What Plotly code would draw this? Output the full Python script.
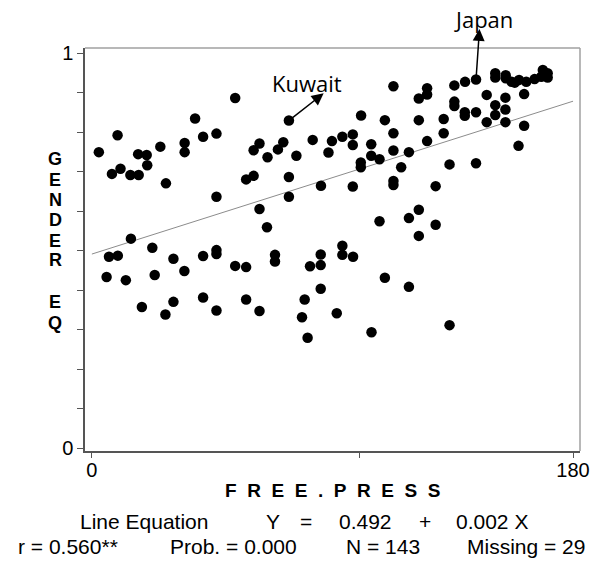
import plotly.graph_objects as go

# ---- data ----
free_press = [
    53.6, 38.6, 9.6, 41.6, 46.6, 34.7, 25.6, 2.6, 17.3, 20.5, 34.7, 20.7, 10.7, 7.5, 14.4, 17.5, 27.7, 46.6, 57.7,
    73.7, 112.8, 122.3, 100.7, 109.6, 122.3, 112.8, 97.6, 93.7, 89.8, 82.6, 62.7, 71.6, 69.6, 60.5, 65.7, 76.5,
    88.5, 97.6, 104.5, 112.8, 118.6, 104.5, 107.6, 100.6, 100.6, 115.7, 60.5, 73.7, 85.7, 97.6, 112.8, 112.8, 73.7,
    143.7, 139.6, 135.6, 125.4, 125.4, 150.9, 150.9, 154.8, 154.8, 158.2, 159.8, 162.5, 165.6, 168.7, 170.5, 170.5,
    168.1, 157.0, 161.7, 147.7, 154.7, 135.6, 135.6, 150.9, 154.7, 139.5, 139.5, 143.7, 150.9, 147.7, 154.7, 161.7,
    131.6, 131.6, 125.4, 159.6, 133.8, 143.7, 128.6,
    14.6, 6.4, 9.7, 22.6, 30.5, 41.6, 46.6, 46.6, 53.6, 57.7, 5.5, 12.7, 23.5, 34.6, 18.7, 27.5, 30.5, 41.6, 46.6, 57.7,
    62.7, 65.5, 68.5, 68.5, 85.6, 81.6, 85.6, 93.7, 93.7, 97.7, 107.6, 118.6, 122.3, 122.3, 85.6, 79.6, 109.6, 118.6,
    62.7, 78.6, 91.6, 80.7, 104.6,
    128.6, 133.8,
]
gender_eq = [
    0.886, 0.834, 0.792, 0.788, 0.796, 0.772, 0.763, 0.749, 0.744, 0.742, 0.749, 0.716, 0.707, 0.694, 0.691, 0.691, 0.670, 0.636, 0.680,
    0.829, 0.916, 0.885, 0.842, 0.830, 0.830, 0.797, 0.794, 0.788, 0.777, 0.780, 0.771, 0.774, 0.756, 0.754, 0.736, 0.740,
    0.748, 0.767, 0.769, 0.753, 0.749, 0.740, 0.731, 0.723, 0.711, 0.711, 0.689, 0.686, 0.664, 0.662, 0.676, 0.666, 0.636,
    0.933, 0.927, 0.918, 0.911, 0.895, 0.949, 0.938, 0.944, 0.936, 0.925, 0.932, 0.927, 0.934, 0.957, 0.949, 0.938,
    0.940, 0.927, 0.896, 0.894, 0.887, 0.877, 0.866, 0.868, 0.857, 0.850, 0.841, 0.850, 0.843, 0.825, 0.825, 0.816,
    0.833, 0.797, 0.777, 0.765, 0.718, 0.721, 0.663,
    0.530, 0.484, 0.487, 0.507, 0.479, 0.486, 0.501, 0.491, 0.461, 0.458, 0.433, 0.425, 0.438, 0.448, 0.357, 0.338, 0.370, 0.381, 0.348, 0.376,
    0.605, 0.559, 0.489, 0.472, 0.490, 0.460, 0.463, 0.512, 0.489, 0.484, 0.574, 0.582, 0.603, 0.537, 0.403, 0.376, 0.431, 0.408,
    0.347, 0.331, 0.341, 0.279, 0.293,
    0.565, 0.311,
]

reg_x = [0, 180]
reg_intercept = 0.491
reg_slope = 0.00215
reg_y = [reg_intercept + reg_slope * v for v in reg_x]

kuwait = (73.7, 0.829)
japan = (143.7, 0.933)

x_tickvals = [0, 100, 180]
x_ticktext = ["0", "", "180"]
y_tickvals = [0, 0.1, 0.2, 0.3, 0.4, 0.5, 0.6, 0.7, 0.8, 0.9, 1.0]
y_ticktext = ["0", "", "", "", "", "", "", "", "", "", "1"]

y_title_letters = ["G", "E", "N", "D", "E", "R", "E", "Q"]
y_title_pos = [0.724, 0.672, 0.623, 0.573, 0.521, 0.474, 0.370, 0.318]

line1 = [("Line Equation", 0.1195), ("Y", 0.380), ("=", 0.447), ("0.492", 0.566), ("+", 0.687), ("0.002 X", 0.823)]
line2 = [("r = 0.560**", -0.034), ("Prob. = 0.000", 0.301), ("N = 143", 0.602), ("Missing = 29", 0.891)]

# ---- figure ----
fig = go.Figure()
fig.add_trace(go.Scatter(x=reg_x, y=reg_y, mode="lines",
                         line=dict(color="#8c8c8c", width=1), hoverinfo="skip"))
fig.add_trace(go.Scatter(x=free_press, y=gender_eq, mode="markers",
                         marker=dict(color="black", size=10.5, line=dict(width=0))))

SANS = "Liberation Sans, Arial, sans-serif"
fig.update_layout(
    width=602, height=561,
    margin=dict(l=85, r=15, t=48, b=110),
    plot_bgcolor="white", paper_bgcolor="white",
    showlegend=False,
    font=dict(family=SANS, color="black"),
)
fig.update_xaxes(range=[-2.58, 182.6], tickvals=x_tickvals, ticktext=x_ticktext,
                 ticks="outside", ticklen=5, tickcolor="#555", tickwidth=1,
                 ticklabelstandoff=-5,
                 showline=True, linecolor="#555", linewidth=1.5,
                 showgrid=False, zeroline=False, tickfont=dict(size=20, color="black"))
fig.update_yaxes(range=[-0.0076, 1.0127], tickvals=y_tickvals, ticktext=y_ticktext,
                 ticks="outside", ticklen=6, tickcolor="#555", tickwidth=1,
                 showline=True, linecolor="#555", linewidth=1.5,
                 showgrid=False, zeroline=False, tickfont=dict(size=20, color="black"))

# light top/right frame
fig.add_shape(type="line", xref="paper", yref="paper", x0=0, x1=1, y0=1, y1=1,
              line=dict(color="#a0a0a0", width=1.5))
fig.add_shape(type="line", xref="paper", yref="paper", x0=1, x1=1, y0=0, y1=1,
              line=dict(color="#a0a0a0", width=1.5))

ann = []
# y title stacked letters
for letter, yp in zip(y_title_letters, y_title_pos):
    ann.append(dict(text=letter, xref="paper", yref="paper",
                    x=-0.0598, y=yp, xanchor="center", yanchor="middle", showarrow=False,
                    font=dict(family=SANS, size=18, color="black", weight="bold")))
# x title
ann.append(dict(text="\u00a0\u00a0".join(list("FREE.PRESS")), xref="paper", yref="paper",
                x=0.501, y=-0.0968, xanchor="center", yanchor="middle", showarrow=False,
                font=dict(family=SANS, size=19, color="black", weight="bold")))
for txt, xp in line1:
    ann.append(dict(text=txt, xref="paper", yref="paper", x=xp, y=-0.176,
                    xanchor="center", yanchor="middle", showarrow=False,
                    font=dict(family=SANS, size=21, color="black")))
for txt, xp in line2:
    ann.append(dict(text=txt, xref="paper", yref="paper", x=xp, y=-0.238,
                    xanchor="center", yanchor="middle", showarrow=False,
                    font=dict(family=SANS, size=21, color="black")))

# country labels
LBL = "Open Sans, Noto Sans, sans-serif"
ann.append(dict(text="Kuwait", xref="paper", yref="paper", x=0.449, y=0.913,
                xanchor="center", yanchor="middle", showarrow=False,
                font=dict(family=LBL, size=22, color="black")))
ann.append(dict(text="Japan", xref="paper", yref="paper", x=0.805, y=1.072,
                xanchor="center", yanchor="middle", showarrow=False,
                font=dict(family=LBL, size=22, color="black")))
# arrows (head near label, tail at country point)
ann.append(dict(text="", x=86.7, y=0.898, ax=kuwait[0], ay=kuwait[1], xref="x", yref="y",
                axref="x", ayref="y", showarrow=True, arrowhead=2, arrowsize=1.6,
                arrowwidth=1.5, arrowcolor="black"))
ann.append(dict(text="", x=145.0, y=1.061, ax=japan[0], ay=japan[1], xref="x", yref="y",
                axref="x", ayref="y", showarrow=True, arrowhead=2, arrowsize=1.6,
                arrowwidth=1.5, arrowcolor="black"))
fig.update_layout(annotations=ann)

fig.write_html("out.html")
